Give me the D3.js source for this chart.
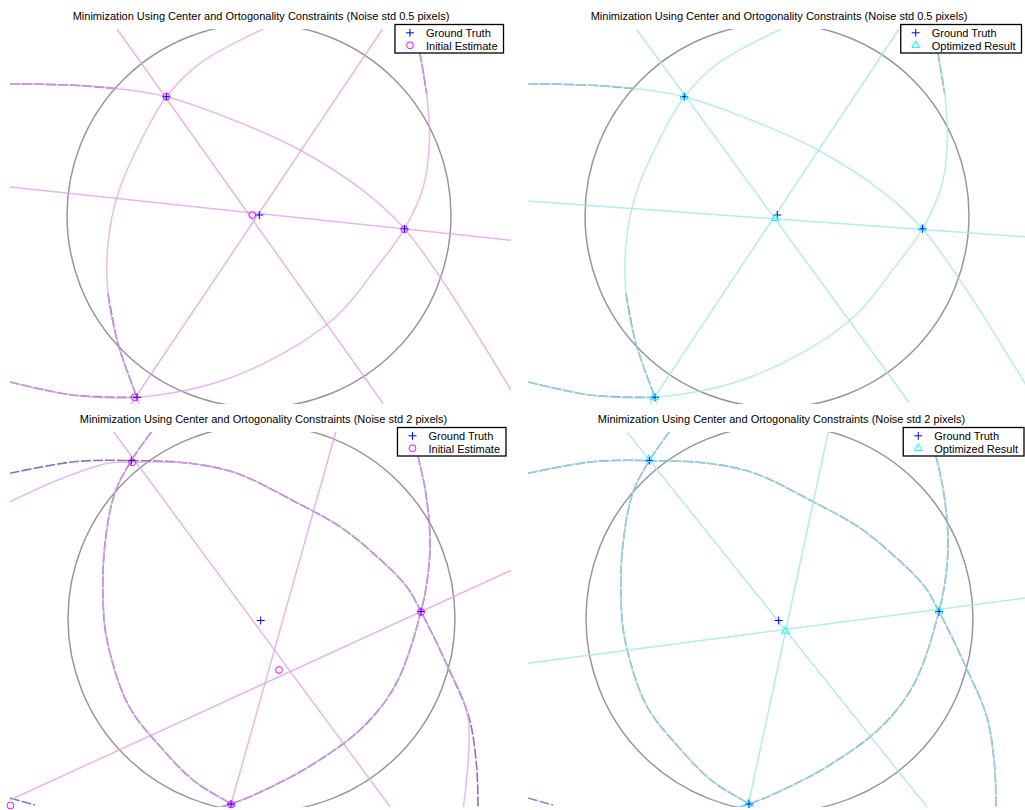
<!DOCTYPE html>
<html>
<head>
<meta charset="utf-8">
<script src="https://cdn.jsdelivr.net/npm/d3@7"></script>
<style>
  body { margin: 0; background: #ffffff; }
  svg { display: block; }
  text { font-family: "Liberation Sans", Arial, Helvetica, sans-serif; }
</style>
</head>
<body>
<svg id="chart" width="1025" height="810"></svg>
<script>
// ---------------- data (image pixel coordinates, 501 x 375 image) ----------------
const titles = [
  "Minimization Using Center and Ortogonality Constraints (Noise std 0.5 pixels)",
  "Minimization Using Center and Ortogonality Constraints (Noise std 0.5 pixels)",
  "Minimization Using Center and Ortogonality Constraints (Noise std 2 pixels)",
  "Minimization Using Center and Ortogonality Constraints (Noise std 2 pixels)"
];
const legendTruth = "Ground Truth";
const legendInitial = "Initial Estimate";
const legendOptimized = "Optimized Result";

// scene A (noise std 0.5): principal point + three vanishing points
const sceneATruth     = [[249.3, 186], [156.3, 67.7], [394.5, 199.8], [127, 368.3]];
const sceneAInitial   = [[242.3, 186], [156.3, 67.7], [394.3, 200.3], [124.7, 368.3]];
const sceneAOptimized = [[247.3, 189.3], [156, 67.7], [394.3, 199.3], [126, 368.3]];
const sceneABoundary  = [249, 186.5, 192];   // cx, cy, r

// scene B (noise std 2)
const sceneBTruth     = [[250.7, 188.5], [121.3, 28.6], [411, 179.5], [221, 372]];
const sceneBInitial   = [[269, 238], [122.3, 30.3], [411, 180], [221, 372.5], [0.5, 373.5]];
const sceneBOptimized = [[257.3, 199], [121, 27.3], [411, 179], [220.7, 371.3]];
const sceneBBoundary  = [251.5, 186.5, 193.5];

// straight lines through the principal point (end points)
const sceneAInitialLines   = [[[107, 0], [373.3, 374.7]], [[372.6, 0], [121, 375]], [[0, 158], [501, 211.3]]];
const sceneAOptimizedLines = [[[108.3, 0], [381.7, 374.3]], [[371, 0], [122, 375]], [[0, 172], [501, 208.1]]];
const sceneBInitialLines   = [[[103.7, 0], [380, 374.7]], [[325.8, 0], [220.2, 375]], [[0, 368], [501.7, 138]]];
const sceneBOptimizedLines = [[[99, 0], [400, 376.3]], [[300.3, 0], [219.9, 375]], [[0, 231.3], [501, 165.5]]];

// projected great circles, scene A
const sceneAArc1 = [[0, 54.7], [64.7, 56.3], [108, 59.7], [156.3, 67.7], [223.3, 91], [290, 121],
                    [356.7, 164.3], [394.5, 199.8], [436.7, 258], [501, 361]];
const sceneAArc2 = [[253.3, 0], [190, 34.3], [156.3, 67.7], [138, 98], [108, 164.7], [98, 214.7], [98, 264.7],
                    [108, 314.7], [127, 368.3], [130, 376]];
const sceneAArc3 = [[405, 0], [410, 24.7], [416.7, 64.7], [419.3, 114.7], [413.3, 158], [394.5, 199.8],
                    [370, 234], [320, 293], [223.3, 347.7], [127, 368.3], [64.7, 366.3], [0, 353]];
// detected edge segments, scene A
const sceneAEdges = [
  [[0, 54.7], [64.7, 56.3], [108, 59.7]],
  [[0, 353], [64.7, 366.3], [127, 368.3]],
  [[98, 264.7], [108, 314.7], [127, 368.3]],
  [[405, 0], [410, 24.7], [416.7, 64.7]]
];

// projected great circles, scene B (ground truth)
const sceneBArc1 = [[0, 41.3], [64.7, 29.7], [121.3, 28.6], [179.7, 31.3], [226.7, 41.3], [285, 69.7], [330, 94.7],
                    [363.3, 121.3], [396.7, 154.7], [411, 179.5], [437, 233], [459, 285.5], [466.7, 335.5], [468, 376]];
const sceneBArc2 = [[141.3, 0], [121.3, 28.6], [104.7, 61.3], [94.7, 114.7], [93, 164.7], [96.7, 206.3],
                    [118.3, 273], [151.7, 316.3], [185, 349.7], [221, 372], [226, 376]];
const sceneBArc3 = [[401.7, 0], [415, 56.3], [420, 106.3], [418.3, 139.7], [411, 179.5], [386, 252],
                    [352.5, 295.5], [301.7, 333], [252.5, 359], [221, 372], [200, 378]];
// initial estimate of the first great circle, scene B
const sceneBArc1Initial = [[0, 69.7], [48, 48], [98, 31.3], [122.3, 30.3], [179.7, 31.3], [226.7, 41.3], [285, 69.7],
                           [330, 94.7], [363.3, 121.3], [396.7, 154.7], [411, 180], [437, 233], [458, 285], [453.3, 376]];
const sceneBEdges = [sceneBArc1, sceneBArc2, sceneBArc3, [[0, 366], [25, 373]]];

// ---------------- drawing ----------------
const IMG_W = 501, IMG_H = 375;
const svg = d3.select("#chart");
const defs = svg.append("defs");
defs.append("filter").attr("id", "soft")
  .attr("x", "-2%").attr("y", "-2%").attr("width", "104%").attr("height", "104%")
  .append("feGaussianBlur").attr("stdDeviation", 0.5);

const looks = {
  initial:   { line: "#e2a2e8", edge: "#6650a3", est: "#ff00ff", label: legendInitial },
  optimized: { line: "#a2e6e6", edge: "#5574ad", est: "#00ffff", label: legendOptimized }
};

const panels = [
  { x0: 10,  y0: 29,  shift: 0,   title: titles[0], kind: "initial",
    boundary: sceneABoundary, truth: sceneATruth, est: sceneAInitial, lines: sceneAInitialLines,
    arcs: [sceneAArc1, sceneAArc2, sceneAArc3], edges: sceneAEdges },
  { x0: 528, y0: 29,  shift: 0,   title: titles[1], kind: "optimized",
    boundary: sceneABoundary, truth: sceneATruth, est: sceneAOptimized, lines: sceneAOptimizedLines,
    arcs: [sceneAArc1, sceneAArc2, sceneAArc3], edges: sceneAEdges },
  { x0: 10,  y0: 432, shift: 2.5, title: titles[2], kind: "initial",
    boundary: sceneBBoundary, truth: sceneBTruth, est: sceneBInitial, lines: sceneBInitialLines,
    arcs: [sceneBArc1Initial, sceneBArc2, sceneBArc3], edges: sceneBEdges },
  { x0: 528, y0: 432, shift: 2.5, title: titles[3], kind: "optimized",
    boundary: sceneBBoundary, truth: sceneBTruth, est: sceneBOptimized, lines: sceneBOptimizedLines,
    arcs: [sceneBArc1, sceneBArc2, sceneBArc3], edges: sceneBEdges }
];

function plusPath(s) { return `M${-s},0H${s}M0,${-s}V${s}`; }

panels.forEach((p, i) => {
  const look = looks[p.kind];
  const x = d3.scaleLinear().domain([0, IMG_W]).range([p.x0, p.x0 + IMG_W]);
  const y = d3.scaleLinear().domain([0, IMG_H]).range([p.y0, p.y0 + IMG_H]);
  const curve = d3.line().x(d => x(d[0])).y(d => y(d[1])).curve(d3.curveCatmullRom.alpha(0.5));

  defs.append("clipPath").attr("id", "clip" + i)
    .append("rect").attr("x", p.x0).attr("y", p.y0).attr("width", IMG_W).attr("height", IMG_H);

  const img = svg.append("g").attr("clip-path", `url(#clip${i})`)
    .append("g").attr("filter", "url(#soft)");

  // image circle
  const [cx, cy, r] = p.boundary;
  img.append("circle")
    .attr("cx", x(cx)).attr("cy", y(cy)).attr("r", x(cx + r) - x(cx))
    .attr("fill", "none").attr("stroke", "#979797").attr("stroke-width", 1.5);

  // detected edges
  img.selectAll("path.edge").data(p.edges).join("path").attr("class", "edge")
    .attr("d", curve).attr("fill", "none")
    .attr("stroke", look.edge).attr("stroke-width", 1.6).attr("stroke-opacity", 0.78)
    .attr("stroke-dasharray", "10 2");

  // fitted great circles
  img.selectAll("path.arc").data(p.arcs).join("path").attr("class", "arc")
    .attr("d", curve).attr("fill", "none")
    .attr("stroke", look.line).attr("stroke-width", 1.5).attr("stroke-opacity", 0.75);

  // lines through the principal point
  img.selectAll("line.ray").data(p.lines).join("line").attr("class", "ray")
    .attr("x1", d => x(d[0][0])).attr("y1", d => y(d[0][1]))
    .attr("x2", d => x(d[1][0])).attr("y2", d => y(d[1][1]))
    .attr("stroke", look.line).attr("stroke-width", 1.5).attr("stroke-opacity", 0.8);

  // markers
  const marks = svg.append("g");
  marks.selectAll("path.truth").data(p.truth).join("path").attr("class", "truth")
    .attr("transform", d => `translate(${x(d[0])},${y(d[1])})`)
    .attr("d", plusPath(4)).attr("stroke", "#0000ff").attr("stroke-width", 1).attr("fill", "none");
  if (p.kind === "initial") {
    marks.selectAll("circle.est").data(p.est).join("circle").attr("class", "est")
      .attr("cx", d => x(d[0])).attr("cy", d => y(d[1])).attr("r", 3.4)
      .attr("fill", "none").attr("stroke", look.est).attr("stroke-width", 1);
  } else {
    marks.selectAll("path.est").data(p.est).join("path").attr("class", "est")
      .attr("transform", d => `translate(${x(d[0])},${y(d[1])})`)
      .attr("d", d3.symbol(d3.symbolTriangle, 26)())
      .attr("fill", "none").attr("stroke", look.est).attr("stroke-width", 1);
  }

  // title
  svg.append("text")
    .attr("x", p.x0 + 251 + p.shift).attr("y", p.y0 - 9)
    .attr("text-anchor", "middle").attr("font-size", 11).attr("fill", "#000")
    .text(p.title);

  // legend
  const leg = svg.append("g");
  const box = leg.append("rect");
  const t1 = leg.append("text").attr("font-size", 11).text(legendTruth);
  const t2 = leg.append("text").attr("font-size", 11).text(look.label);
  const tw = Math.max(t1.node().getComputedTextLength(), t2.node().getComputedTextLength());
  const right = p.x0 + 493.5 + p.shift;
  const left = right - (31 + tw + 6);
  const top = p.y0 - 4.5;
  box.attr("x", left).attr("y", top).attr("width", right - left).attr("height", 28.5)
    .attr("fill", "#fff").attr("stroke", "#000").attr("stroke-width", 1.3);
  t1.attr("x", left + 31).attr("y", top + 12);
  t2.attr("x", left + 31).attr("y", top + 25);
  leg.append("path").attr("transform", `translate(${left + 15},${top + 8.3})`)
    .attr("d", plusPath(4)).attr("stroke", "#0000ff").attr("fill", "none");
  if (p.kind === "initial") {
    leg.append("circle").attr("cx", left + 15).attr("cy", top + 20.8).attr("r", 3.4)
      .attr("fill", "none").attr("stroke", look.est);
  } else {
    leg.append("path").attr("transform", `translate(${left + 15},${top + 20.8})`)
      .attr("d", d3.symbol(d3.symbolTriangle, 26)())
      .attr("fill", "none").attr("stroke", look.est);
  }
});
</script>
</body>
</html>
